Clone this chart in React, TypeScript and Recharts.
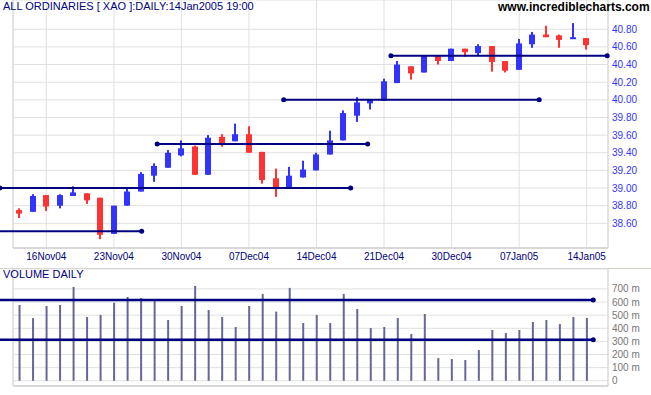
import React from 'react';
import {
  ComposedChart,
  Bar,
  XAxis,
  YAxis,
  CartesianGrid,
  ReferenceLine,
  ReferenceDot
} from 'recharts';

// trading days, 12 Nov 2004 .. 14 Jan 2005
const dates = [
  '12Nov04', '15Nov04', '16Nov04', '17Nov04', '18Nov04', '19Nov04',
  '22Nov04', '23Nov04', '24Nov04', '25Nov04', '26Nov04', '29Nov04', '30Nov04',
  '01Dec04', '02Dec04', '03Dec04', '06Dec04', '07Dec04', '08Dec04', '09Dec04', '10Dec04',
  '13Dec04', '14Dec04', '15Dec04', '16Dec04', '17Dec04', '20Dec04', '21Dec04', '22Dec04',
  '23Dec04', '24Dec04', '29Dec04', '30Dec04', '31Dec04', '04Jan05', '05Jan05', '06Jan05',
  '07Jan05', '10Jan05', '11Jan05', '12Jan05', '13Jan05', '14Jan05'
];

const opens = [38.75, 38.73, 38.92, 38.80, 38.91, 38.94, 38.89, 38.48, 38.80, 38.96, 39.14, 39.23, 39.37, 39.47, 39.15, 39.58, 39.53, 39.61, 39.41, 39.11, 39.01, 39.12, 39.20, 39.38, 39.54, 39.82, 39.96, 39.99, 40.19, 40.38, 40.31, 40.50, 40.44, 40.58, 40.53, 40.61, 40.44, 40.34, 40.63, 40.74, 40.73, 40.69, 40.70];
const highs = [38.77, 38.93, 38.92, 38.93, 39.02, 38.94, 38.89, 38.80, 39.01, 39.18, 39.28, 39.43, 39.54, 39.48, 39.60, 39.61, 39.73, 39.70, 39.41, 39.22, 39.24, 39.31, 39.40, 39.65, 39.88, 40.03, 40.00, 40.24, 40.44, 40.38, 40.50, 40.50, 40.58, 40.58, 40.63, 40.61, 40.44, 40.69, 40.77, 40.84, 40.74, 40.87, 40.70];
const lows = [38.66, 38.73, 38.74, 38.77, 38.91, 38.82, 38.42, 38.48, 38.80, 38.96, 39.07, 39.23, 39.36, 39.15, 39.15, 39.47, 39.53, 39.40, 39.05, 38.90, 39.01, 39.12, 39.20, 39.38, 39.54, 39.75, 39.89, 39.99, 40.19, 40.23, 40.31, 40.40, 40.44, 40.49, 40.50, 40.32, 40.31, 40.34, 40.59, 40.71, 40.59, 40.69, 40.57];
const closes = [38.71, 38.91, 38.79, 38.92, 38.95, 38.86, 38.47, 38.80, 38.96, 39.16, 39.25, 39.40, 39.45, 39.15, 39.57, 39.50, 39.61, 39.40, 39.09, 38.99, 39.14, 39.21, 39.38, 39.54, 39.85, 39.97, 40.00, 40.21, 40.40, 40.30, 40.50, 40.44, 40.58, 40.54, 40.61, 40.43, 40.33, 40.64, 40.74, 40.71, 40.68, 40.71, 40.62];
// volume in millions
const volumes = [578, 478, 570, 578, 715, 486, 502, 595, 639, 631, 616, 463, 570, 723, 539, 486, 410, 570, 662, 527, 708, 440, 502, 440, 662, 547, 402, 410, 478, 356, 509, 173, 166, 158, 234, 387, 364, 387, 448, 463, 432, 486, 478];

const dateTicks = [2, 7, 12, 17, 22, 27, 32, 37, 42];
const priceTicks = [38.6, 38.8, 39.0, 39.2, 39.4, 39.6, 39.8, 40.0, 40.2, 40.4, 40.6, 40.8];
const volumeTicks = [0, 100, 200, 300, 400, 500, 600, 700];

// horizontal support / resistance lines: level, from day, to day
const priceLines = [
  { level: 38.51, from: -1.43, to: 9.06, dots: [9.06] },
  { level: 39.0, from: -1.43, to: 24.53, dots: [-1.43, 24.53] },
  { level: 39.5, from: 10.21, to: 25.79, dots: [10.21, 25.79] },
  { level: 40.0, from: 19.57, to: 38.49, dots: [19.57, 38.49] },
  { level: 40.5, from: 27.51, to: 43.52, dots: [27.51, 43.52] }
];
const volumeLines = [
  { level: 616, from: -1.43, to: 42.49 },
  { level: 313, from: -1.43, to: 42.49 }
];

const data = dates.map((d, i) => ({
  day: i,
  date: d,
  open: opens[i],
  high: highs[i],
  low: lows[i],
  close: closes[i],
  volume: volumes[i]
}));

const X_DOMAIN: [number, number] = [-0.466, 43.58];
const NAVY = '#000080';
const GRID = '#e0e0e0';
const FONT = '"Liberation Sans", Arial, sans-serif';

const Candle = (props: any) => {
  const { x, y, width, height, payload } = props;
  const { open, close, high, low } = payload;
  const k = height / (high - low);
  const cx = Math.round(x + width / 2);
  const top = y + (high - Math.max(open, close)) * k;
  const bot = y + (high - Math.min(open, close)) * k;
  const color = close >= open ? '#3333ff' : '#ff3333';
  return (
    <g>
      <rect x={cx - 1} y={y} width={2} height={Math.max(height, 1)} fill={color} />
      <rect x={cx - 3} y={top} width={6} height={Math.max(bot - top, 2)} fill={color} />
    </g>
  );
};

export default function App() {
  return (
    <div style={{ position: 'absolute', left: 0, top: 0, width: 651, height: 395, background: '#fff', fontFamily: FONT }}>
      <ComposedChart width={651} height={268} data={data} margin={{ top: 0, right: 0, bottom: 0, left: 13 }}>
        <CartesianGrid stroke={GRID} />
        <XAxis
          dataKey="day"
          type="number"
          domain={X_DOMAIN}
          allowDataOverflow
          ticks={dateTicks}
          interval={0}
          tickFormatter={(v) => dates[v]}
          height={20}
          tickSize={0}
          tickMargin={5}
          axisLine={{ stroke: '#d8d8d8', strokeWidth: 2 }}
          tick={{ fill: NAVY, fontSize: 10, fontFamily: FONT }}
        />
        <YAxis
          orientation="right"
          type="number"
          domain={[38.32, 41.132]}
          allowDataOverflow
          ticks={priceTicks}
          interval={0}
          tickFormatter={(v) => v.toFixed(2)}
          width={43}
          tickSize={0}
          tickMargin={4}
          axisLine={{ stroke: '#d8d8d8' }}
          tick={{ fill: '#3333ff', fontSize: 10, fontFamily: FONT }}
        />
        <ReferenceLine x={X_DOMAIN[0]} stroke="#d8d8d8" />
        <Bar
          dataKey={(d: any) => [d.low, d.high]}
          barSize={7}
          shape={<Candle />}
          isAnimationActive={false}
        />
        {priceLines.map((l, i) => (
          <ReferenceLine
            key={`pl-${i}`}
            segment={[{ x: l.from, y: l.level }, { x: l.to, y: l.level }]}
            stroke={NAVY}
            strokeWidth={2}
            ifOverflow="visible"
          />
        ))}
        {priceLines.flatMap((l, i) =>
          l.dots.map((d, j) => (
            <ReferenceDot key={`pd-${i}-${j}`} x={d} y={l.level} r={2.5} fill={NAVY} stroke="none" ifOverflow="visible" />
          ))
        )}
      </ComposedChart>

      <div style={{ position: 'absolute', left: 0, top: 268, width: 651, height: 1, background: '#d4d0c8' }} />

      <div style={{ position: 'absolute', left: 0, top: 268 }}>
        <ComposedChart width={651} height={127} data={data} margin={{ top: 1, right: 0, bottom: 9, left: 13 }}>
          <CartesianGrid stroke={GRID} />
          <XAxis
            dataKey="day"
            type="number"
            domain={X_DOMAIN}
            allowDataOverflow
            ticks={dateTicks}
            interval={0}
            height={0}
            tick={false}
            tickLine={false}
            axisLine={false}
          />
          <YAxis
            orientation="right"
            type="number"
            domain={[-40, 852]}
            allowDataOverflow
            ticks={volumeTicks}
            interval={0}
            tickFormatter={(v) => (v === 0 ? '0' : `${v} m`)}
            width={43}
            tickSize={0}
            tickMargin={4}
            axisLine={{ stroke: '#d8d8d8' }}
            tick={{ fill: '#777777', fontSize: 10, fontFamily: FONT }}
          />
          <ReferenceLine x={X_DOMAIN[0]} stroke="#d8d8d8" />
          <ReferenceLine y={-40} stroke="#d8d8d8" strokeWidth={2} />
          <Bar dataKey="volume" barSize={2} fill="#666699" isAnimationActive={false} />
          {volumeLines.map((l, i) => (
            <ReferenceLine
              key={`vl-${i}`}
              segment={[{ x: l.from, y: l.level }, { x: l.to, y: l.level }]}
              stroke={NAVY}
              strokeWidth={2.5}
              ifOverflow="visible"
            />
          ))}
          {volumeLines.map((l, i) => (
            <ReferenceDot key={`vd-${i}`} x={l.to} y={l.level} r={2.5} fill={NAVY} stroke="none" ifOverflow="visible" />
          ))}
        </ComposedChart>
      </div>

      <div style={{ position: 'absolute', left: 3, top: 0, fontSize: 11, color: NAVY, lineHeight: '13px', whiteSpace: 'nowrap' }}>
        ALL ORDINARIES [ XAO ]:DAILY:14Jan2005 19:00
      </div>
      <div style={{ position: 'absolute', left: 498, top: 0, fontSize: 12, fontWeight: 'bold', color: '#000', lineHeight: '15px', whiteSpace: 'nowrap' }}>
        www.incrediblecharts.com
      </div>
      <div style={{ position: 'absolute', left: 3, top: 268, fontSize: 11, color: NAVY, lineHeight: '13px', whiteSpace: 'nowrap' }}>
        VOLUME DAILY
      </div>
    </div>
  );
}
